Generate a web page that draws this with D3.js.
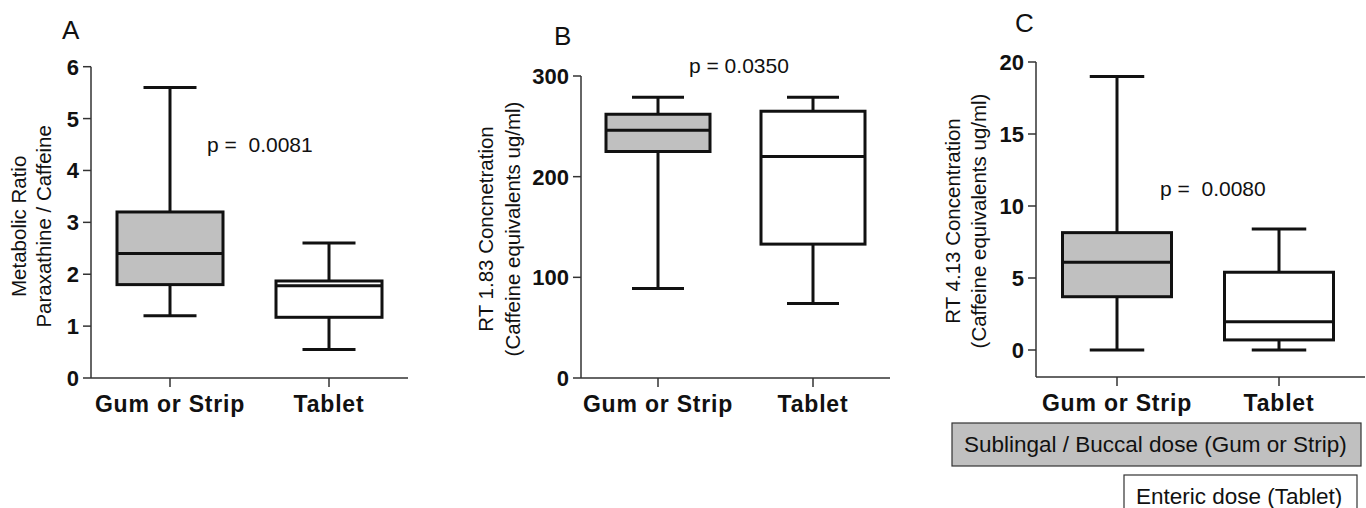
<!DOCTYPE html>
<html>
<head>
<meta charset="utf-8">
<script src="https://cdn.jsdelivr.net/npm/d3@7"></script>
<style>
  body { margin: 0; background: #fff; }
  text { font-family: Arial, "Liberation Sans", sans-serif; fill: #111; }
</style>
</head>
<body>
<div id="Container"></div>
<script>
// groups shown on every panel
var groups = ["Gum or Strip", "Tablet"];
var fills = ["#c0c0c0", "#ffffff"];

// box stats per group: [min, q1, median, q3, max]
var statsA = [[1.2, 1.8, 2.4, 3.2, 5.6], [0.55, 1.17, 1.78, 1.87, 2.6]];
var statsB = [[89, 225, 246, 262, 279], [74, 133, 220, 265, 279]];
var statsC = [[0, 3.7, 6.1, 8.15, 19], [0, 0.7, 1.97, 5.4, 8.4]];

var ticksA = [0, 1, 2, 3, 4, 5, 6];
var ticksB = [0, 100, 200, 300];
var ticksC = [0, 5, 10, 15, 20];

var pA = "p =  0.0081", pB = "p = 0.0350", pC = "p =  0.0080";

var legendItems = ["Sublingal / Buccal dose (Gum or Strip)", "Enteric dose (Tablet)"];

var W = 1366, H = 508;
var canvas = d3.select("#Container").append("svg")
    .attr("width", W)
    .attr("height", H);

function panel(o) {
    var g = canvas.append("g");
    var y = d3.scaleLinear().domain(o.domain).range([o.y0, o.y1]);
    var x = d3.scalePoint().domain(groups).range([o.xa, o.xb]);

    // axes
    g.append("line")
        .attr("x1", o.ax).attr("x2", o.ax)
        .attr("y1", y(o.ticks[o.ticks.length - 1])).attr("y2", o.base)
        .attr("stroke", "#333").attr("stroke-width", 1.5);
    g.append("line")
        .attr("x1", o.ax).attr("x2", o.axEnd)
        .attr("y1", o.base).attr("y2", o.base)
        .attr("stroke", "#333").attr("stroke-width", 1.5);

    g.selectAll(".ytick").data(o.ticks).enter()
        .append("line")
        .attr("x1", o.ax - 8).attr("x2", o.ax)
        .attr("y1", function (d) { return y(d); })
        .attr("y2", function (d) { return y(d); })
        .attr("stroke", "#333").attr("stroke-width", 1.5);
    g.selectAll(".ylab").data(o.ticks).enter()
        .append("text")
        .attr("x", o.ax - 12)
        .attr("y", function (d) { return y(d) + 8; })
        .attr("text-anchor", "end")
        .attr("font-size", 22)
        .attr("font-weight", "bold")
        .text(function (d) { return d; });

    // x ticks + labels
    g.selectAll(".xtick").data(groups).enter()
        .append("line")
        .attr("x1", function (d) { return x(d); })
        .attr("x2", function (d) { return x(d); })
        .attr("y1", o.base).attr("y2", o.base + 9)
        .attr("stroke", "#333").attr("stroke-width", 1.5);
    g.selectAll(".xlab").data(groups).enter()
        .append("text")
        .attr("x", function (d) { return x(d); })
        .attr("y", o.base + 34)
        .attr("text-anchor", "middle")
        .attr("font-size", 23)
        .attr("font-weight", "bold")
        .attr("letter-spacing", 0.8)
        .text(function (d) { return d; });

    // boxes
    var bw = o.bw;
    o.stats.forEach(function (s, i) {
        var cx = x(groups[i]);
        var b = g.append("g").attr("stroke", "#111").attr("stroke-width", 3).attr("fill", "none");
        b.append("line").attr("x1", cx).attr("x2", cx).attr("y1", y(s[0])).attr("y2", y(s[1]));
        b.append("line").attr("x1", cx).attr("x2", cx).attr("y1", y(s[3])).attr("y2", y(s[4]));
        b.append("line").attr("x1", cx - bw / 4).attr("x2", cx + bw / 4).attr("y1", y(s[0])).attr("y2", y(s[0]));
        b.append("line").attr("x1", cx - bw / 4).attr("x2", cx + bw / 4).attr("y1", y(s[4])).attr("y2", y(s[4]));
        b.append("rect")
            .attr("x", cx - bw / 2).attr("width", bw)
            .attr("y", y(s[3])).attr("height", y(s[1]) - y(s[3]))
            .attr("fill", fills[i]);
        b.append("line").attr("x1", cx - bw / 2).attr("x2", cx + bw / 2).attr("y1", y(s[2])).attr("y2", y(s[2]));
    });

    // panel letter
    g.append("text").attr("x", o.lx).attr("y", o.ly)
        .attr("font-size", 26).text(o.letter);

    // p value
    g.append("text").attr("x", o.px).attr("y", o.py)
        .attr("font-size", 21).style("white-space", "pre")
        .text(o.p);

    // y title, two lines
    var mid = (o.y0 + y(o.ticks[o.ticks.length - 1])) / 2 + o.tshift;
    o.title.forEach(function (t, i) {
        g.append("text")
            .attr("transform", "translate(" + o.tx[i] + "," + mid + ")rotate(-90)")
            .attr("text-anchor", "middle")
            .attr("dominant-baseline", "central")
            .attr("font-size", 20.5)
            .text(t);
    });
}

panel({ domain: [0, 6], y0: 378, y1: 66.7, ax: 91, axEnd: 408, base: 378,
        xa: 170, xb: 329, bw: 106, stats: statsA, ticks: ticksA,
        letter: "A", lx: 62, ly: 39, p: pA, px: 207, py: 152,
        title: ["Metabolic Ratio", "Paraxathine / Caffeine"], tx: [18, 43], tshift: 4 });

panel({ domain: [0, 300], y0: 378, y1: 76, ax: 581, axEnd: 890, base: 378,
        xa: 658, xb: 813, bw: 104, stats: statsB, ticks: ticksB,
        letter: "B", lx: 554, ly: 45, p: pB, px: 689, py: 73,
        title: ["RT 1.83 Concnetration", "(Caffeine equivalents ug/ml)"], tx: [485, 512], tshift: 2 });

panel({ domain: [0, 20], y0: 350, y1: 62, ax: 1036, axEnd: 1365, base: 377,
        xa: 1117, xb: 1279, bw: 109, stats: statsC, ticks: ticksC,
        letter: "C", lx: 1015, ly: 32, p: pC, px: 1160, py: 196,
        title: ["RT 4.13 Concentration", "(Caffeine equivalents ug/ml)"], tx: [952, 978], tshift: 15 });

// legend boxes
var leg = [
    { x: 952, y: 423, w: 409, h: 43, fill: "#c0c0c0" },
    { x: 1124, y: 475, w: 233, h: 40, fill: "#ffffff" }
];
leg.forEach(function (l, i) {
    canvas.append("rect")
        .attr("x", l.x).attr("y", l.y).attr("width", l.w).attr("height", l.h)
        .attr("fill", l.fill).attr("stroke", "#333").attr("stroke-width", 1.2);
    canvas.append("text")
        .attr("x", l.x + 12).attr("y", l.y + 29)
        .attr("font-size", 22.5)
        .text(legendItems[i]);
});
</script>
</body>
</html>
